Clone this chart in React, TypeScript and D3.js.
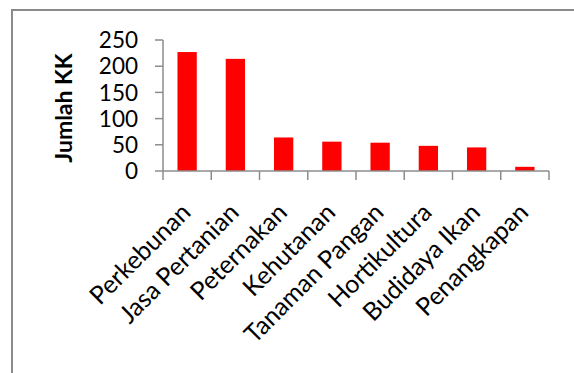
import React from 'react';
import * as d3 from 'd3';

const categories = ['Perkebunan', 'Jasa Pertanian', 'Peternakan', 'Kehutanan', 'Tanaman Pangan', 'Hortikultura', 'Budidaya Ikan', 'Penangkapan'];
const values = [227, 214, 64, 56, 54, 48, 45, 8];
const yTicks = [0, 50, 100, 150, 200, 250];

const App: React.FC = () => {
  const width = 574;
  const height = 373;
  const plot = { left: 163, right: 549, top: 40, bottom: 171 };
  const font = 'Lato, Carlito, Calibri, sans-serif';
  const axisColor = '#8c8c8c';

  const x = d3.scaleBand<string>().domain(categories).range([plot.left, plot.right]).paddingInner(0.6).paddingOuter(0.3);
  const xEdge = d3.scaleLinear().domain([0, categories.length]).range([plot.left, plot.right]);
  const y = d3.scaleLinear().domain([0, 250]).range([plot.bottom, plot.top]);

  return (
    <svg width={width} height={height} style={{ position: 'fixed', left: 0, top: 0 }} fontFamily={font}>
      <rect x={0} y={0} width={width} height={height} fill="white" />
      <rect x={12} y={10} width={width + 20} height={height + 20} fill="none" stroke="#8a8a8a" strokeWidth={2} />

      {/* bars */}
      {categories.map((c, i) => (
        <rect key={c} x={x(c)} y={y(values[i])} width={x.bandwidth()} height={y(0) - y(values[i])} fill="#ff0000" />
      ))}

      {/* y axis */}
      <line x1={plot.left} y1={y(250)} x2={plot.left} y2={y(0)} stroke={axisColor} strokeWidth={1.5} />
      {yTicks.map(t => (
        <g key={t}>
          <line x1={plot.left - 8} y1={y(t)} x2={plot.left} y2={y(t)} stroke={axisColor} strokeWidth={1.5} />
          <text x={138} y={y(t)} dy="0.36em" textAnchor="end" fontSize={22.5} fill="#000">{t}</text>
        </g>
      ))}

      {/* x axis */}
      <line x1={plot.left} y1={y(0)} x2={plot.right} y2={y(0)} stroke={axisColor} strokeWidth={1.5} />
      {d3.range(categories.length + 1).map(i => (
        <line key={i} x1={xEdge(i)} y1={y(0)} x2={xEdge(i)} y2={y(0) + 9} stroke={axisColor} strokeWidth={1.5} />
      ))}
      {categories.map(c => {
        const cx = (x(c) ?? 0) + x.bandwidth() / 2 + 5;
        const cy = 214;
        return (
          <text key={c} x={cx} y={cy} textAnchor="end" fontSize={25} fill="#000" transform={`rotate(-45, ${cx}, ${cy})`}>{c}</text>
        );
      })}

      <text transform={`translate(72, 108) rotate(-90)`} textAnchor="middle" fontSize={23} fontWeight="bold" fill="#000">Jumlah KK</text>
    </svg>
  );
};

export default App;
